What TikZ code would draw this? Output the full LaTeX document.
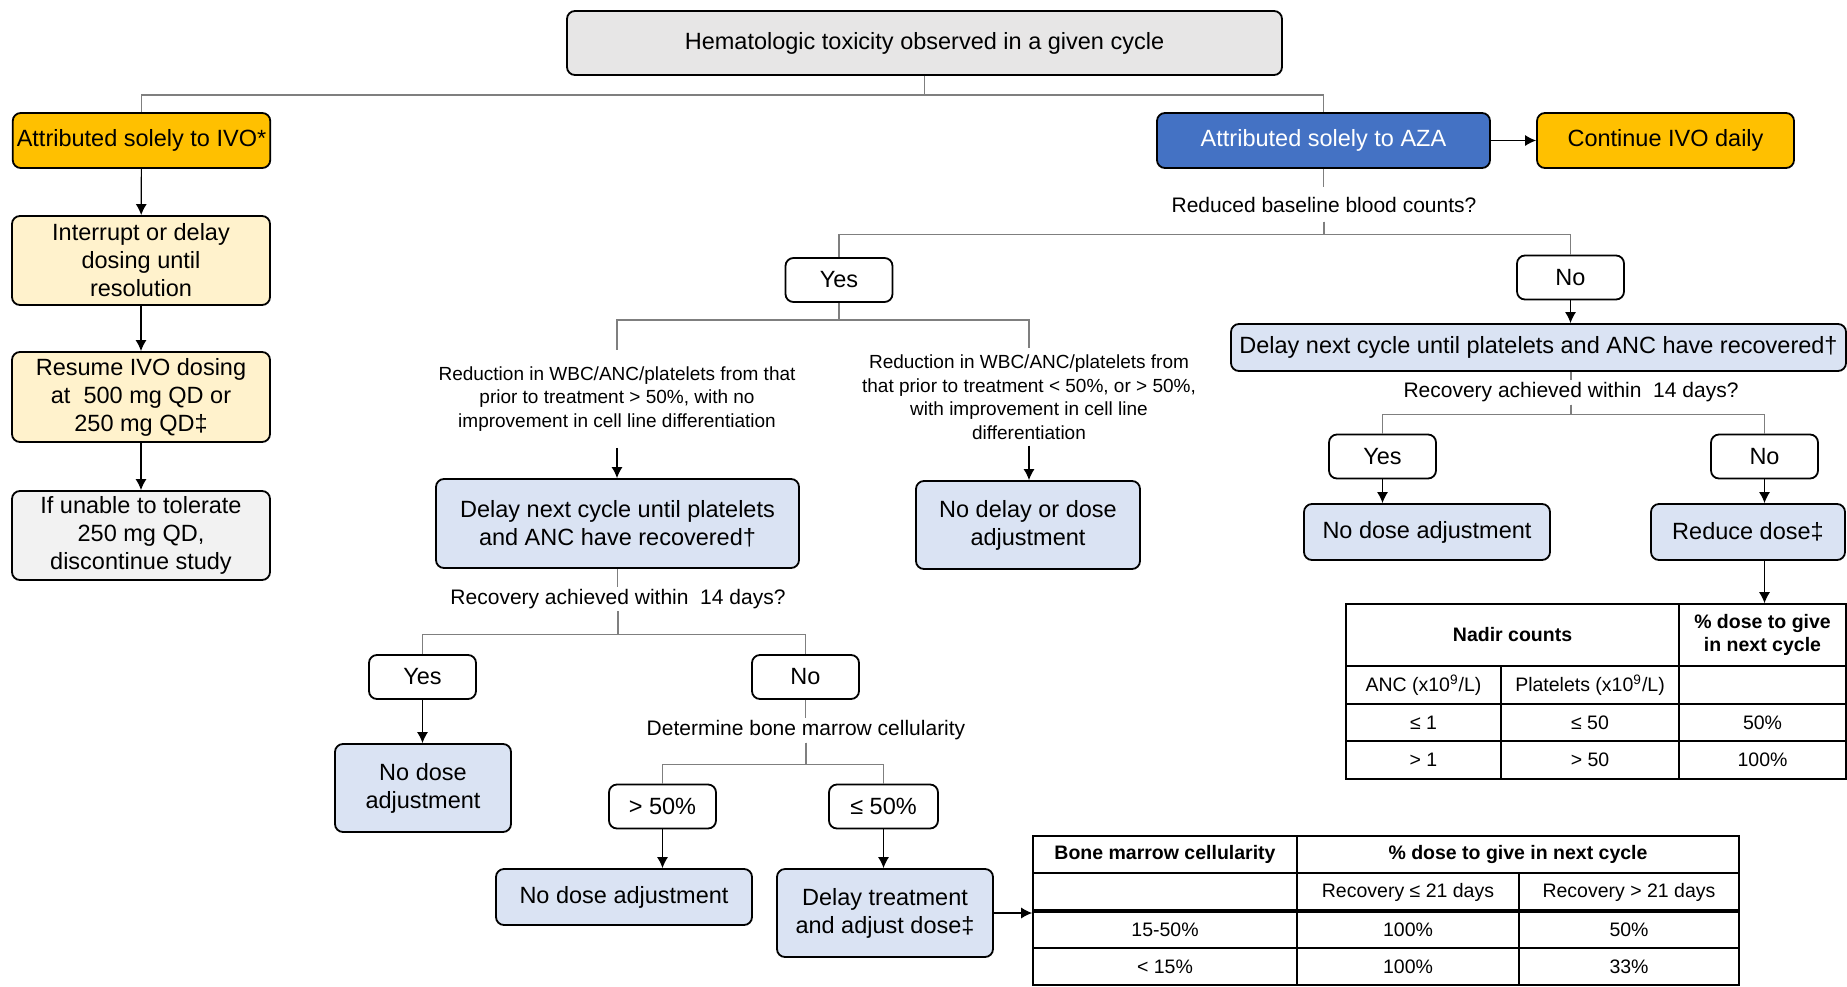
\documentclass[tikz,border=0pt]{standalone}
\usepackage{fontspec}
\setmainfont{Liberation Sans}
\usetikzlibrary{shapes,arrows,arrows.meta}
\definecolor{boxgray}{HTML}{E7E6E6}
\definecolor{ivoorange}{HTML}{FFC000}
\definecolor{ivolight}{HTML}{FFF2CC}
\definecolor{stopgray}{HTML}{F2F2F2}
\definecolor{azablue}{HTML}{4472C4}
\definecolor{azalight}{HTML}{DAE3F3}
\definecolor{linegray}{HTML}{7F7F7F}

\begin{document}
\begin{tikzpicture}[x=0.5pt,y=-0.5pt,
    block_base/.style ={rectangle, draw=black, line width=0.9pt, rounded corners=4pt,
      align=center, inner sep=2pt, font=\fontsize{11.75}{14}\selectfont},
    block_gray/.style ={block_base, fill=boxgray},
    block_ivo/.style ={block_base, fill=ivoorange},
    block_hold/.style ={block_base, fill=ivolight},
    block_stop/.style ={block_base, fill=stopgray},
    block_aza/.style ={block_base, fill=azablue, text=white},
    block_action/.style ={block_base, fill=azalight},
    block_choice/.style ={block_base, fill=white, minimum width=53.5pt, minimum height=22pt},
    block_label/.style ={rectangle, draw=none, inner xsep=2pt, inner ysep=1pt,
      font=\fontsize{10.5}{12.5}\selectfont},
    block_cond/.style ={rectangle, draw=none, align=center, inner xsep=2pt,
      font=\fontsize{9.5}{11.75}\selectfont},
    cell_text/.style ={inner sep=1pt, align=center, font=\fontsize{9.75}{11.5}\selectfont},
    cell_head/.style ={cell_text, font=\fontsize{9.75}{11.5}\selectfont\bfseries},
    grid/.style ={draw=black, line width=0.8pt},
    branch/.style ={draw=linegray, line width=0.6pt},
    line/.style ={draw, line width=0.6pt, -{Latex[length=5.5pt,width=5.5pt]}, shorten >=0pt}]
    \useasboundingbox (0,0) rectangle (1847,986);
    % left column: IVO
    \node [block_gray, minimum width=357.5pt, minimum height=32pt] (toxic) at (924.5,43) {Hematologic toxicity observed in a given cycle};
    \node [block_ivo, minimum width=128.5pt, minimum height=27.5pt] (ivo) at (141.5,140.5) {Attributed solely to IVO*};
    \node [block_hold, minimum width=129pt, minimum height=44.5pt] (interrupt) at (141,260.5) {Interrupt or delay\\dosing until\\resolution};
    \node [block_hold, minimum width=129pt, minimum height=45pt] (resume) at (141,397) {Resume IVO dosing\\at\ \ 500 mg QD or\\250 mg QD‡};
    \node [block_stop, minimum width=129pt, minimum height=44.5pt] (unable) at (141,535.5) {If unable to tolerate\\250 mg QD,\\discontinue study};
    % AZA branch
    \node [block_aza, minimum width=166.5pt, minimum height=27.5pt] (aza) at (1323.5,140.5) {Attributed solely to AZA};
    \node [block_ivo, minimum width=128.5pt, minimum height=27.5pt] (continue) at (1665.5,140.5) {Continue IVO daily};
    \node [block_label, inner ysep=4.5pt] (baseline) at (1324,204.5) {Reduced baseline blood counts?};
    \node [block_choice] (yesA) at (839,280) {Yes};
    \node [block_choice] (noA) at (1570.5,277.5) {No};
    % reduced baseline: yes
    \node [block_cond, inner ysep=8pt] (condL) at (617,399) {Reduction in WBC/ANC/platelets from that\\prior to treatment > 50\%, with no\\improvement in cell line differentiation};
    \node [block_cond, inner ysep=3pt] (condR) at (1029,397) {Reduction in WBC/ANC/platelets from\\that prior to treatment < 50\%, or > 50\%,\\with improvement in cell line\\differentiation};
    \node [block_action, minimum width=181.5pt, minimum height=44.5pt] (delayL) at (617.5,523.5) {Delay next cycle until platelets\\and ANC have recovered†};
    \node [block_action, minimum width=112pt, minimum height=44pt] (nodelay) at (1028,525) {No delay or dose\\adjustment};
    \node [block_label] (recL) at (618,599) {Recovery achieved within\ \ 14 days?};
    \node [block_choice] (yesB) at (422.5,677) {Yes};
    \node [block_choice] (noB) at (805.5,677) {No};
    \node [block_action, minimum width=88pt, minimum height=44pt] (nodoseL) at (423,788) {No dose\\adjustment};
    \node [block_label] (marrow) at (806,730.5) {Determine bone marrow cellularity};
    \node [block_choice] (gt50) at (662.5,806.5) {> 50\%};
    \node [block_choice, minimum width=54.5pt] (le50) at (883.5,806.5) {≤ 50\%};
    \node [block_action, minimum width=128pt, minimum height=28pt] (nodoseB) at (624,897) {No dose adjustment};
    \node [block_action, minimum width=108pt, minimum height=44pt] (delayT) at (885,913) {Delay treatment\\and adjust dose‡};
    % reduced baseline: no
    \node [block_action, minimum width=307.5pt, minimum height=23.5pt] (delayR) at (1538.5,347.5) {Delay next cycle until platelets and ANC have recovered†};
    \node [block_label] (recR) at (1571,392.5) {Recovery achieved within\ \ 14 days?};
    \node [block_choice] (yesC) at (1382.5,456.5) {Yes};
    \node [block_choice] (noC) at (1764.5,456.5) {No};
    \node [block_action, minimum width=123pt, minimum height=28pt] (nodoseR) at (1427,532) {No dose adjustment};
    \node [block_action, minimum width=97pt, minimum height=28pt] (reduce) at (1748,532) {Reduce dose‡};
    % nadir counts table
    \node [grid, minimum width=250pt, minimum height=87.5pt, inner sep=0pt] (nadir) at (1596,691.5) {};
    \draw [grid] (1346,666) -- (1846,666) (1346,704) -- (1846,704) (1346,741) -- (1846,741);
    \draw [grid] (1679,604) -- (1679,779) (1501,666) -- (1501,779);
    \node [cell_head] (nadirhead) at (1512.5,635) {Nadir counts};
    \node [cell_head] (nadirdose) at (1762.5,635) {\% dose to give\\in next cycle};
    \node [cell_text] (anchead) at (1423.5,685) {ANC\ (x10\textsuperscript{9}/L)};
    \node [cell_text] (plthead) at (1590,685) {Platelets (x10\textsuperscript{9}/L)};
    \node [cell_text] (ancA) at (1423.5,722.5) {≤ 1};
    \node [cell_text] (pltA) at (1590,722.5) {≤ 50};
    \node [cell_text] (doseA) at (1762.5,722.5) {50\%};
    \node [cell_text] (ancB) at (1423.5,760) {> 1};
    \node [cell_text] (pltB) at (1590,760) {> 50};
    \node [cell_text] (doseB) at (1762.5,760) {100\%};
    % bone marrow table
    \node [grid, minimum width=353pt, minimum height=74.5pt, inner sep=0pt] (cellular) at (1386,910.5) {};
    \draw [grid] (1033,873) -- (1739,873) (1033,948) -- (1739,948);
    \draw [grid, line width=1.6pt] (1033,911) -- (1739,911);
    \draw [grid] (1297,836) -- (1297,985) (1519,873) -- (1519,985);
    \node [cell_head] (marrowhead) at (1165,854.5) {Bone marrow cellularity};
    \node [cell_head] (marrowdose) at (1518,854.5) {\% dose to give in next cycle};
    \node [cell_text] (recshort) at (1408,892) {Recovery ≤ 21 days};
    \node [cell_text] (reclong) at (1629,892) {Recovery > 21 days};
    \node [cell_text] (cellA) at (1165,929.5) {15-50\%};
    \node [cell_text] (shortA) at (1408,929.5) {100\%};
    \node [cell_text] (longA) at (1629,929.5) {50\%};
    \node [cell_text] (cellB) at (1165,967) {< 15\%};
    \node [cell_text] (shortB) at (1408,967) {100\%};
    \node [cell_text] (longB) at (1629,967) {33\%};
    % connecting nodes with paths
    \begin{scope}[every path/.style=branch]
      \path (toxic.south) -- ++(0,19) -| (ivo.north);
      \path (toxic.south) -- ++(0,19) -| (aza.north);
      \path (aza.south) -- (aza.south |- baseline.north);
      \path (baseline.south) -- ++(0,13) -| (yesA.north);
      \path (baseline.south) -- ++(0,13) -| (noA.north);
      \path (yesA.south) -- ++(0,17) -| (condL.north);
      \path (yesA.south) -- ++(0,17) -| (condR.north);
      \path (delayL.south) -- (delayL.south |- recL.north);
      \path (recL.south) -- ++(0,23) -| (yesB.north);
      \path (recL.south) -- ++(0,23) -| (noB.north);
      \path (noB.south) -- (noB.south |- marrow.north);
      \path (marrow.south) -- ++(0,22) -| (gt50.north);
      \path (marrow.south) -- ++(0,22) -| (le50.north);
      \path (delayR.south -| recR.north) -- (recR.north);
      \path (recR.south) -- ++(0,10) -| (yesC.north);
      \path (recR.south) -- ++(0,10) -| (noC.north);
    \end{scope}
    \begin{scope}[every path/.style=line]
      \path (ivo) -- (interrupt);
      \path (interrupt) -- (resume);
      \path (resume) -- (unable);
      \path (aza) -- (continue);
      \path (condL.south) -- (condL.south |- delayL.north);
      \path (condR.south) -- (condR.south |- nodelay.north);
      \path (yesB.south) -- (yesB.south |- nodoseL.north);
      \path (gt50.south) -- (gt50.south |- nodoseB.north);
      \path (le50.south) -- (le50.south |- delayT.north);
      \path (delayT.east) -- (delayT.east -| cellular.west);
      \path (noA.south) -- (noA.south |- delayR.north);
      \path (yesC.south) -- (yesC.south |- nodoseR.north);
      \path (noC.south) -- (noC.south |- reduce.north);
      \path (reduce.south -| noC.south) -- (noC.south |- nadir.north);
    \end{scope}
  \end{tikzpicture}
\end{document}
